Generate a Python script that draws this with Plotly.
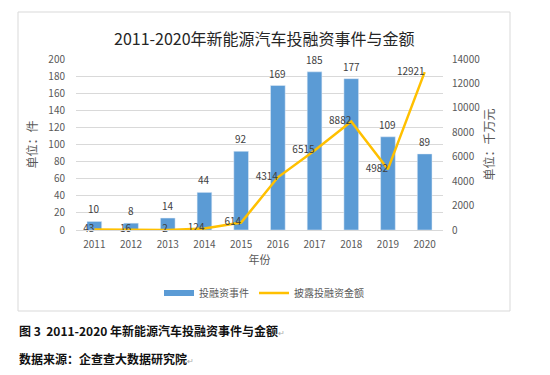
import plotly.graph_objects as go

years = [2011, 2012, 2013, 2014, 2015, 2016, 2017, 2018, 2019, 2020]
events = [10, 8, 14, 44, 92, 169, 185, 177, 109, 89]
amounts = [43, 16, 2, 124, 614, 4314, 6515, 8882, 4982, 12921]

left_ticks = list(range(0, 201, 20))
right_ticks = list(range(0, 14001, 2000))

FONT = "Noto Sans CJK SC, Noto Sans, sans-serif"
TXT = "#595959"
BLUE = "#5B9BD5"
GOLD = "#FFC000"

# plot area in px
PL, PR, PT, PB = 76, 443, 59, 230
W, H = 550, 375
pw, ph = PR - PL, PB - PT

def px_x(x):
    return (x - PL) / pw

def px_y(y):
    return (PB - y) / ph

fig = go.Figure()
fig.add_trace(go.Bar(
    x=years, y=events, name="投融资事件", showlegend=False,
    marker=dict(color=BLUE),
))
fig.add_trace(go.Scatter(
    x=years, y=amounts, name="披露投融资金额", yaxis="y2", showlegend=False,
    mode="lines+text", line=dict(color=GOLD, width=2.5),
    text=[str(v) for v in amounts], textposition="middle left",
    textfont=dict(size=10, color="#404040", family=FONT),
    cliponaxis=False,
))
# legend entries (Excel-style wide swatches)
fig.add_trace(go.Scatter(x=[None], y=[None], mode="lines", name="投融资事件",
                         line=dict(color=BLUE, width=6)))
fig.add_trace(go.Scatter(x=[None], y=[None], mode="lines", name="披露投融资金额",
                         line=dict(color=GOLD, width=2.5)))

annotations = [
    dict(x=yr, y=v, text=str(v), xref="x", yref="y", showarrow=False,
         yanchor="bottom", yshift=3, font=dict(size=10, color="#404040", family=FONT))
    for yr, v in zip(years, events)
]
annotations += [
    dict(text="2011-2020年新能源汽车投融资事件与金额", xref="paper", yref="paper",
         x=px_x(264), y=px_y(38), xanchor="center", yanchor="middle", showarrow=False,
         font=dict(size=16, color="#262626", family=FONT)),
    dict(text="<b>图 3  2011-2020 年新能源汽车投融资事件与金额</b><span style='color:#aaaaaa;font-size:8px'>↵</span>",
         xref="paper", yref="paper",
         x=px_x(17), y=px_y(330), xanchor="left", yanchor="middle", showarrow=False,
         font=dict(size=12, color="#111111", family=FONT)),
    dict(text="<b>数据来源：企查查大数据研究院</b><span style='color:#aaaaaa;font-size:8px'>↵</span>",
         xref="paper", yref="paper",
         x=px_x(17), y=px_y(358), xanchor="left", yanchor="middle", showarrow=False,
         font=dict(size=12, color="#111111", family=FONT)),
]

fig.update_layout(
    width=W, height=H,
    margin=dict(l=PL, r=W - PR, t=PT, b=H - PB, autoexpand=False),
    paper_bgcolor="white", plot_bgcolor="white",
    font=dict(family=FONT, color=TXT, size=10),
    bargap=0.6,
    showlegend=True,
    legend=dict(orientation="h", x=px_x(264), xanchor="center", y=px_y(293), yanchor="middle",
                font=dict(size=10, color=TXT), itemwidth=30, traceorder="normal"),
    xaxis=dict(type="linear", range=[years[0] - 0.5, years[-1] + 0.5], tickvals=years,
               ticktext=[str(y) for y in years],
               showgrid=False, showline=True, linecolor="#D9D9D9", ticks="", zeroline=False,
               tickfont=dict(size=10, color=TXT), ticklabelstandoff=5,
               title=dict(text="年份", font=dict(size=11, color=TXT), standoff=3)),
    yaxis=dict(range=[0, 200], tickvals=left_ticks, showgrid=True, gridcolor="#D9D9D9",
               zeroline=False, ticks="", tickfont=dict(size=10, color=TXT), ticklabelstandoff=10,
               title=dict(text="单位：件", font=dict(size=12, color=TXT), standoff=8)),
    yaxis2=dict(range=[0, 14000], tickvals=right_ticks, ticktext=[str(v) for v in right_ticks],
                overlaying="y", side="right",
                showgrid=False, zeroline=False, ticks="", tickfont=dict(size=10, color=TXT),
                ticklabelstandoff=8,
                title=dict(text="单位：千万元", font=dict(size=12, color=TXT), standoff=5)),
    shapes=[dict(type="rect", xref="paper", yref="paper",
                 x0=px_x(18), x1=px_x(510), y0=px_y(311), y1=px_y(12),
                 line=dict(color="#D9D9D9", width=1), layer="below")],
    annotations=annotations,
)

fig.write_html("out.html", post_script="document.body.style.margin='0';",
               config={"displayModeBar": False})
